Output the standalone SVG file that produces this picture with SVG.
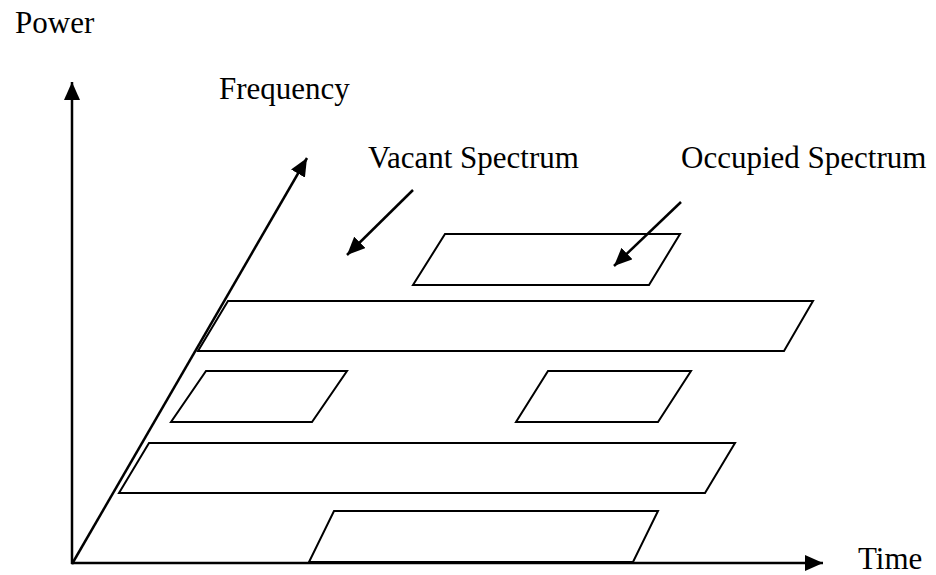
<svg xmlns="http://www.w3.org/2000/svg" width="936" height="575" viewBox="0 0 936 575">
<style>
.t{font-family:"Liberation Serif","Times New Roman",serif;font-size:31px;fill:#000}
.ax{stroke:#000;stroke-width:2.5;fill:none}
.ar{stroke:#000;stroke-width:2.5;fill:none}
.pg{stroke:#000;stroke-width:2;fill:#fff;stroke-linejoin:miter}
</style>
<defs>
<marker id="ah" markerUnits="userSpaceOnUse" markerWidth="20" markerHeight="16" refX="18" refY="8" orient="auto">
<path d="M0,0 L18,8 L0,16 Z" fill="#000"/>
</marker>
</defs>
<rect width="936" height="575" fill="#fff"/>
<g id="connectors">
<line id="power-axis" class="ax" x1="72" y1="564" x2="72" y2="82" marker-end="url(#ah)"/>
<line id="freq-axis" class="ax" x1="72" y1="564" x2="307" y2="158" marker-end="url(#ah)"/>
<line id="time-axis" class="ax" x1="71" y1="563" x2="823" y2="563" marker-end="url(#ah)"/>
</g>
<g id="bar-top-long"><polygon class="pg" points="228,301 813,301 784,351 198,351"/></g>
<g id="occupied-top"><polygon class="pg" points="445,234 680,234 649,285 413,285"/></g>
<g id="small-left"><polygon class="pg" points="206,371 347,371 312,422 171,422"/></g>
<g id="small-right"><polygon class="pg" points="548,371 691,371 658,422 516,422"/></g>
<g id="bar-mid-long"><polygon class="pg" points="149,443 735,443 705,493 119,493"/></g>
<g id="bar-bottom"><polygon class="pg" points="334,511 658,511 633,562 309,562"/></g>
<g id="labels">
<text class="t" x="15" y="33">Power</text>
<text class="t" x="219" y="99">Frequency</text>
<text class="t" x="368" y="168">Vacant Spectrum</text>
<text class="t" x="681" y="168">Occupied Spectrum</text>
<text class="t" x="858" y="569">Time</text>
</g>
<g id="pointers">
<line class="ar" x1="413" y1="190" x2="347" y2="255" marker-end="url(#ah)"/>
<line class="ar" x1="681" y1="202" x2="614" y2="266" marker-end="url(#ah)"/>
</g>
</svg>
